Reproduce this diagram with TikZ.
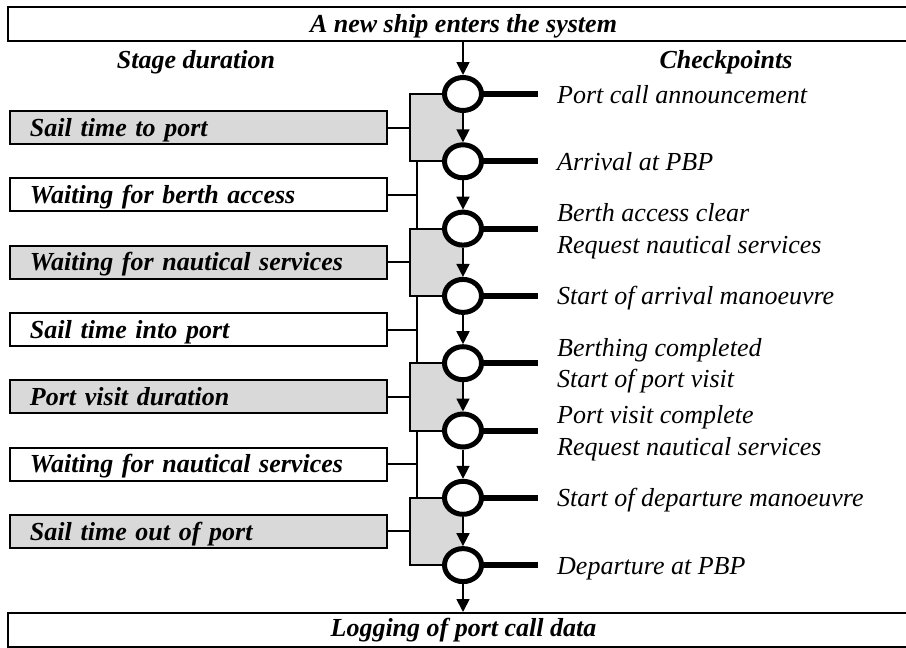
\documentclass[tikz,border=0pt]{standalone}
\usepackage{fontspec}
\setmainfont{Liberation Serif}
\usetikzlibrary{arrows.meta,shapes.geometric}
\definecolor{panel}{gray}{0.85}
\tikzset{
  bigfont/.style={font=\fontsize{26}{31}\selectfont},
  endbox/.style={draw, line width=2pt, minimum width=911pt, minimum height=34pt,
    inner sep=0pt, bigfont, font=\fontsize{26}{31}\selectfont\bfseries\itshape,
    text height=17.4pt, text depth=0pt},
  stagebox/.style={draw, line width=2pt, minimum width=377pt, minimum height=33pt,
    inner xsep=20pt, inner ysep=0pt, text width=337pt, align=left,
    text height=17.4pt, text depth=0pt,
    font=\fontsize{26}{31}\selectfont\bfseries\itshape},
  shaded/.style={fill=panel},
  checkpt/.style={ellipse, draw, fill=white, line width=5pt,
    minimum width=37pt, minimum height=33pt, inner sep=0pt},
  flow/.style={line width=1.8pt, -{Triangle[length=13pt,width=13pt]}},
  stem/.style={line width=6pt},
  link/.style={line width=2pt},
  cplabel/.style={anchor=base west, inner sep=0pt,
    font=\fontsize{26}{31}\selectfont\itshape},
  header/.style={anchor=base, inner sep=0pt,
    font=\fontsize{26}{31}\selectfont\bfseries\itshape},
}
\begin{document}
\begin{tikzpicture}[x=1pt, y=-1pt]
\useasboundingbox (0,0) rectangle (906,648);
\clip (0,0) rectangle (906,648);

% start and end of the process
\node[endbox] (top) at (463.5,23.7) {A new ship enters the system};
\node[endbox, text depth=4pt] (bottom) at (463.5,630) {Logging of port call data};

% column headings
\node[header] (hl) at (196,68) {Stage duration};
\node[header] (hr) at (726,68) {Checkpoints};

% shaded brackets spanning the stages between two checkpoints
\foreach \ya/\yb in {94/161.3, 228.6/295.9, 363.2/430.5, 497.8/565.1}{
  \fill[panel] (410,\ya) rectangle (463,\yb);
  \draw[link] (463,\ya) -- (410,\ya) -- (410,\yb) -- (463,\yb);
}
% plain bars for the unshaded stages
\foreach \ya/\yb in {161.3/228.6, 295.9/363.2, 430.5/497.8}{
  \draw[link] (416.7,\ya) -- (416.7,\yb);
}

% attachment points of the stage boxes
\coordinate (b1) at (410,127.65);
\coordinate (b2) at (416.7,194.95);
\coordinate (b3) at (410,262.25);
\coordinate (b4) at (416.7,329.55);
\coordinate (b5) at (410,396.85);
\coordinate (b6) at (416.7,464.15);
\coordinate (b7) at (410,531.45);

% stage boxes
\node[stagebox, shaded] (s1) at (198.5,127.65) {Sail time to port};
\node[stagebox]         (s2) at (198.5,194.95) {Waiting for berth access};
\node[stagebox, shaded] (s3) at (198.5,262.25) {Waiting for nautical services};
\node[stagebox]         (s4) at (198.5,329.55) {Sail time into port};
\node[stagebox, shaded] (s5) at (198.5,396.85) {Port visit duration};
\node[stagebox]         (s6) at (198.5,464.15) {Waiting for nautical services};
\node[stagebox, shaded] (s7) at (198.5,531.45) {Sail time out of port};
\foreach \i in {1,...,7}{ \draw[link] (s\i.east) -- (b\i); }

% checkpoints
\foreach \i/\y in {1/94, 2/161.3, 3/228.6, 4/295.9, 5/363.2, 6/430.5, 7/497.8, 8/565.1}{
  \coordinate (k\i) at (538,\y);
  \draw[stem] (463,\y) -- (k\i);
  \node[checkpt] (c\i) at (463,\y) {};
}

% checkpoint labels
\node[cplabel] (l1)  at (557,103)   {Port call announcement};
\node[cplabel] (l2)  at (557,170.3) {Arrival at PBP};
\node[cplabel] (l3a) at (557,221.6) {Berth access clear};
\node[cplabel] (l3b) at (557,253.3) {Request nautical services};
\node[cplabel] (l4)  at (557,304.9) {Start of arrival manoeuvre};
\node[cplabel] (l5a) at (557,356.2) {Berthing completed};
\node[cplabel] (l5b) at (557,387.9) {Start of port visit};
\node[cplabel] (l6a) at (557,423.5) {Port visit complete};
\node[cplabel] (l6b) at (557,455.2) {Request nautical services};
\node[cplabel] (l7)  at (557,506.8) {Start of departure manoeuvre};
\node[cplabel] (l8)  at (557,574.1) {Departure at PBP};

% flow between checkpoints
\draw[flow] (c1 |- top.south) -- (c1);
\foreach \i [evaluate=\i as \j using int(\i+1)] in {1,...,7}{
  \draw[flow] (c\i) -- (c\j);
}
\draw[flow] (c8) -- (c8 |- bottom.north);
\end{tikzpicture}
\end{document}
